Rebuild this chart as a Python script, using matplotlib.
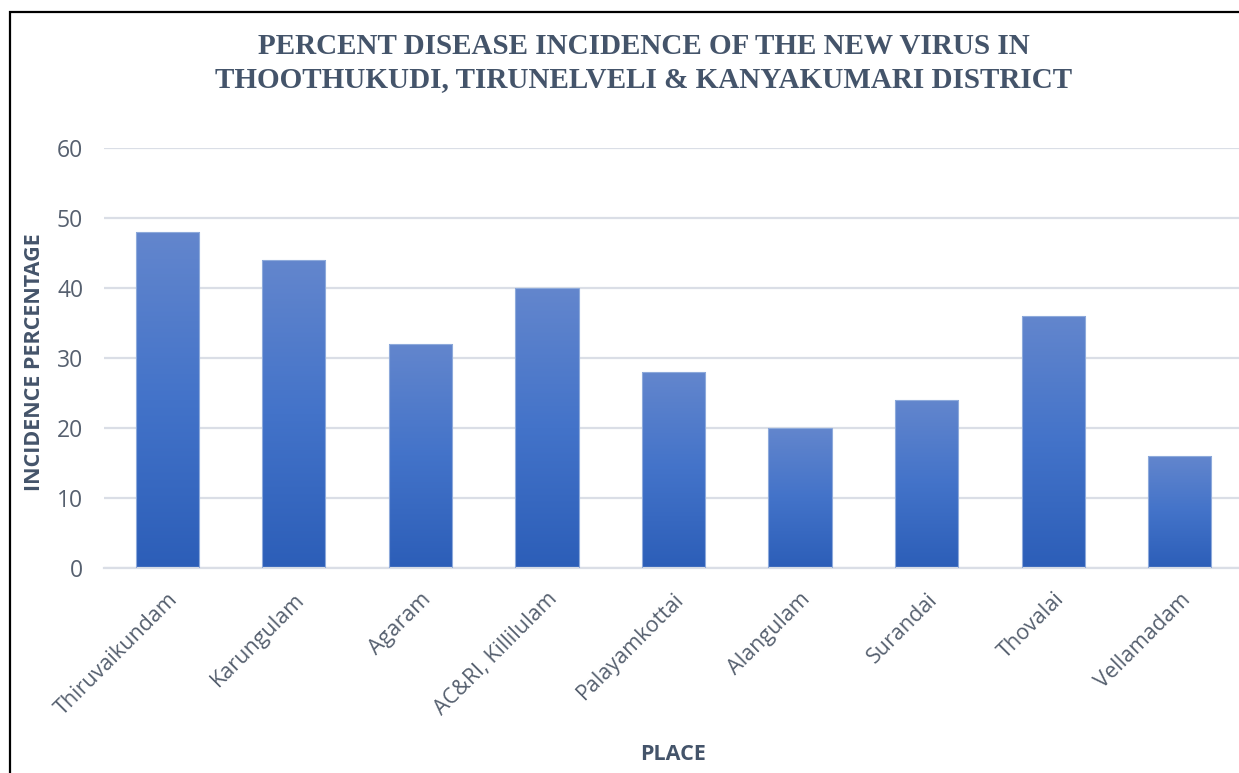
import numpy as np
import matplotlib
matplotlib.use("Agg")
import matplotlib.pyplot as plt
from matplotlib.colors import LinearSegmentedColormap
from matplotlib.patches import Rectangle

# incidence per sampling place
places = ["Thiruvaikundam", "Karungulam", "Agaram", "AC&RI, Killilulam",
          "Palayamkottai", "Alangulam", "Surandai", "Thovalai", "Vellamadam"]
incidence = [48, 44, 32, 40, 28, 20, 24, 36, 16]
y_ticks = [0, 10, 20, 30, 40, 50, 60]

title_txt = ("PERCENT DISEASE INCIDENCE OF THE NEW VIRUS IN\n"
             "THOOTHUKUDI, TIRUNELVELI & KANYAKUMARI DISTRICT")

W, H = 1239, 773
fig = plt.figure(figsize=(W / 100, H / 100), dpi=100)
fig.patch.set_facecolor("white")

# outer frame (runs off the right and bottom edges)
fig.patches.append(Rectangle((10 / W, -0.05), 1.2, (H - 12) / H + 0.05,
                             transform=fig.transFigure, fill=False,
                             edgecolor="black", linewidth=1.6))

ax = fig.add_axes([104 / W, (H - 568) / H, 1139 / W, 420 / H])
x = np.arange(len(places))
bw = 0.5

grad = LinearSegmentedColormap.from_list("bar", ["#2c5eb8", "#4373c9", "#6386cd"])
g = np.linspace(0, 1, 256).reshape(-1, 1)

bars = ax.bar(x, incidence, width=bw, color="none", edgecolor="#8eaadb",
              linewidth=0.8, zorder=3)
for b in bars:
    x0, w, h = b.get_x(), b.get_width(), b.get_height()
    im = ax.imshow(g, cmap=grad, origin="lower", aspect="auto",
                   extent=[x0, x0 + w, 0, h], zorder=2)
    im.set_clip_path(b)

ax.set_xlim(-0.5, len(places) - 0.5)
ax.set_ylim(0, 60)
ax.set_yticks(y_ticks)
ax.yaxis.grid(True, color="#dadee6", linewidth=1.6)
ax.set_axisbelow(True)
for s in ["top", "right", "left"]:
    ax.spines[s].set_visible(False)
ax.spines["bottom"].set_color("#dadee6")
ax.spines["bottom"].set_linewidth(1.6)
ax.tick_params(axis="y", length=0, labelsize=16.5, colors="#56606f", pad=15)
ax.tick_params(axis="x", length=0, labelsize=15.5, colors="#56606f", pad=15)
ax.set_xticks(x)
ax.set_xticklabels(places, rotation=45, ha="right", rotation_mode="anchor",
                   fontfamily="Open Sans")
for t in ax.get_yticklabels():
    t.set_fontfamily("Open Sans")

ax.set_ylabel("INCIDENCE PERCENTAGE", fontsize=15.5, fontweight="bold",
              color="#44546a", fontfamily="Open Sans")
ax.yaxis.set_label_coords(-59 / 1139, 0.49)
fig.text(673 / W, 1 - 755 / H, "PLACE", ha="center", va="center",
         fontsize=15.5, fontweight="bold", color="#44546a", fontfamily="Open Sans")

fig.text(644 / W, 1 - 63 / H, title_txt, ha="center", va="center",
         fontsize=21, fontweight="bold", color="#44546a",
         fontfamily="Liberation Serif", linespacing=1.3)

fig.savefig("out.png", dpi=100)
